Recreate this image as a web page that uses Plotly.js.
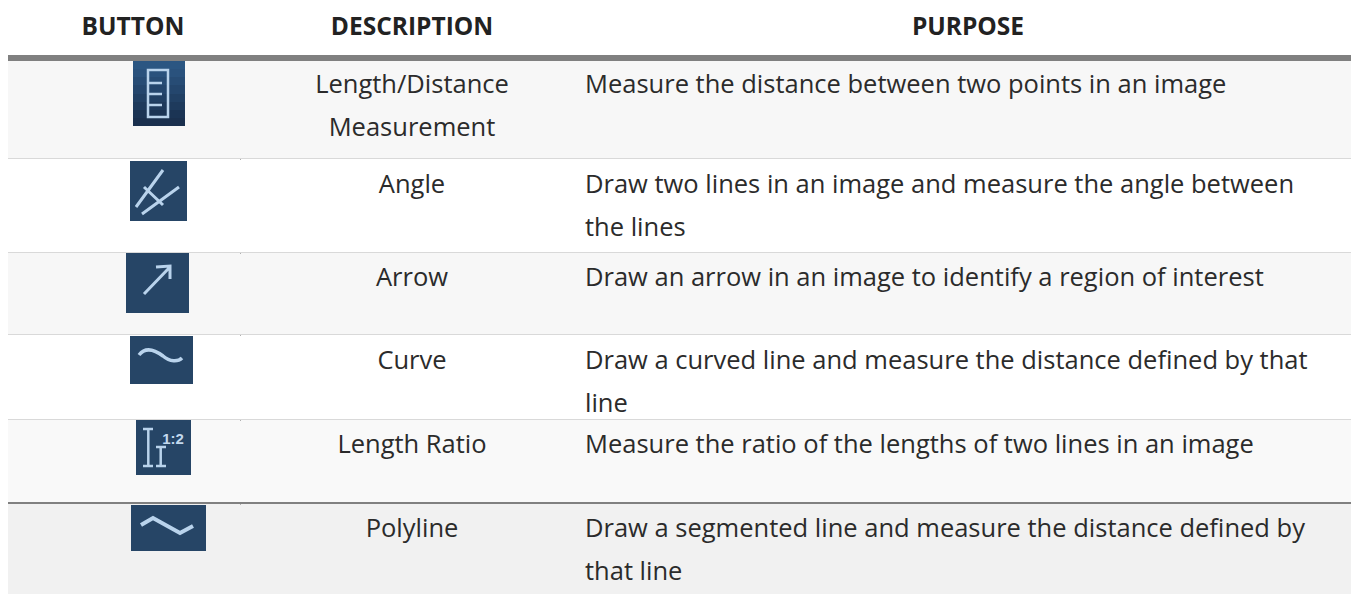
<!DOCTYPE html>
<html><head><meta charset="utf-8">
<script src="https://cdn.plot.ly/plotly-3.0.1.min.js"></script>
<style>html,body{margin:0;padding:0;background:#fff;overflow:hidden}</style>
</head><body><div id="chart" style="width:1351px;height:594px"></div>
<script>
// Table content
var headers = ["BUTTON", "DESCRIPTION", "PURPOSE"];
var descriptions = [
  ["Length/Distance", "Measurement"],
  ["Angle"],
  ["Arrow"],
  ["Curve"],
  ["Length Ratio"],
  ["Polyline"]
];
var purposes = [
  ["Measure the distance between two points in an image"],
  ["Draw two lines in an image and measure the angle between", "the lines"],
  ["Draw an arrow in an image to identify a region of interest"],
  ["Draw a curved line and measure the distance defined by that", "line"],
  ["Measure the ratio of the lengths of two lines in an image"],
  ["Draw a segmented line and measure the distance defined by", "that line"]
];
var ratioLabel = ["1:2"];
// Layout in pixel-space axis units
var rowEdges = [61, 158, 252, 334, 419, 503, 594];
var rowFills = ["#f7f7f7", "#ffffff", "#f7f7f7", "#ffffff", "#f9f9f9", "#f1f1f1"];
var ruleColors = ["#d9d9d9", "#d9d9d9", "#d9d9d9", "#d9d9d9", "#808080"];
var firstBaseline = [87, 187, 280, 363, 447, 531];
var lineStep = 43;
var headerY = 28.5, descX = 412, purposeX = 585, buttonX = 133, purposeHeadX = 968, tableLeft = 8, tableRight = 1351;
var iconBoxes = [[133,185,61,126],[130,187,161,221],[126,189,253,313],[130,193,336,384],[136,191,420,475],[131,206,505,551]];
var iconColor = "#264566", glyphColor = "#b9d3ec";

var shapes = [];
function rect(x0,x1,y0,y1,c){shapes.push({type:"rect",xref:"x",yref:"y",x0:x0,x1:x1,y0:y0,y1:y1,fillcolor:c,line:{width:0},layer:"below"});}
function path(d,w,c){shapes.push({type:"path",xref:"x",yref:"y",path:d,line:{color:c||glyphColor,width:w||3}});}

rowFills.forEach(function(c,i){rect(tableLeft,tableRight,rowEdges[i],rowEdges[i+1],c);});
rect(tableLeft,tableRight,55,61,"#808080");
ruleColors.forEach(function(c,i){
  var e = rowEdges[i+1];
  if(c==="#808080") rect(tableLeft,tableRight,e-1,e+1,c);
  else rect(tableLeft,tableRight,e,e+1,c);
  rect(240,241,e+1,e+2,"#b0b0b0");
});
iconBoxes.forEach(function(b,i){
  if(i===0){
    var bandColors=["#2b5682","#2a527d","#274c75","#24466d","#214064","#1e3a5c","#1b3454","#1a304e"];
    bandColors.forEach(function(c,k){
      var h=(b[3]-b[2])/bandColors.length;
      rect(b[0],b[1],Math.round(b[2]+k*h),Math.round(b[2]+(k+1)*h),c);
    });
  } else rect(b[0],b[1],b[2],b[3],iconColor);
});
// Ruler
path("M148,70 L168,70 L168,117 L148,117 Z",2.5);
path("M148,83 L162,83 M148,94 L162,94 M148,105 L162,105",2.5);
// Angle
path("M136,207 L163,170 M142,214 L179,187 M144,187 L163,205",3);
// Arrow
path("M144,294 L169,268 M156,267 L170,266 L170,279",3);
// Curve
path("M139,355 C146,346 155,350 163,356 C170,362 178,362 182,358",3.5);
// Ratio
path("M143,429 L153,429 M148.3,429 L148.3,466 M143,466 L153,466 M156,447 L166,447 M160.7,447 L160.7,466 M156,466 L166,466",2.5);
// Polyline
path("M141,525 L153,518 L180,533 L193,526",4);

var left = {x:[],y:[],t:[]}, center = {x:[],y:[],t:[]};
descriptions.forEach(function(lines,i){lines.forEach(function(s,k){center.x.push(descX);center.y.push(firstBaseline[i]+k*lineStep);center.t.push(s);});});
purposes.forEach(function(lines,i){lines.forEach(function(s,k){left.x.push(purposeX);left.y.push(firstBaseline[i]+k*lineStep);left.t.push(s);});});
var bodyFont = {family:"Open Sans, sans-serif", size:25.5, color:"#2b2b2b"};
var headFont = {family:"Open Sans, sans-serif", size:24.5, color:"#222222", weight:700};
var traces = [
  {type:"scatter",mode:"text",x:center.x,y:center.y,text:center.t,textposition:"middle center",textfont:bodyFont,hoverinfo:"skip"},
  {type:"scatter",mode:"text",x:left.x,y:left.y,text:left.t,textposition:"middle right",textfont:bodyFont,hoverinfo:"skip"},
  {type:"scatter",mode:"text",x:[buttonX,descX,purposeHeadX],y:[headerY,headerY,headerY],text:headers,textposition:"middle center",textfont:headFont,hoverinfo:"skip"},
  {type:"scatter",mode:"text",x:[173],y:[440],text:ratioLabel,textposition:"middle center",textfont:{family:"Liberation Sans, sans-serif",size:15,color:"#c3d9ee",weight:700},hoverinfo:"skip"}
];
var layout = {
  width:1351,height:594,margin:{l:0,r:0,t:0,b:0},showlegend:false,
  paper_bgcolor:"#ffffff",plot_bgcolor:"#ffffff",
  xaxis:{range:[0,1351],visible:false,fixedrange:true},
  yaxis:{range:[594,0],visible:false,fixedrange:true},
  shapes:shapes
};
Plotly.newPlot("chart",traces,layout,{displayModeBar:false,staticPlot:true});
</script></body></html>
